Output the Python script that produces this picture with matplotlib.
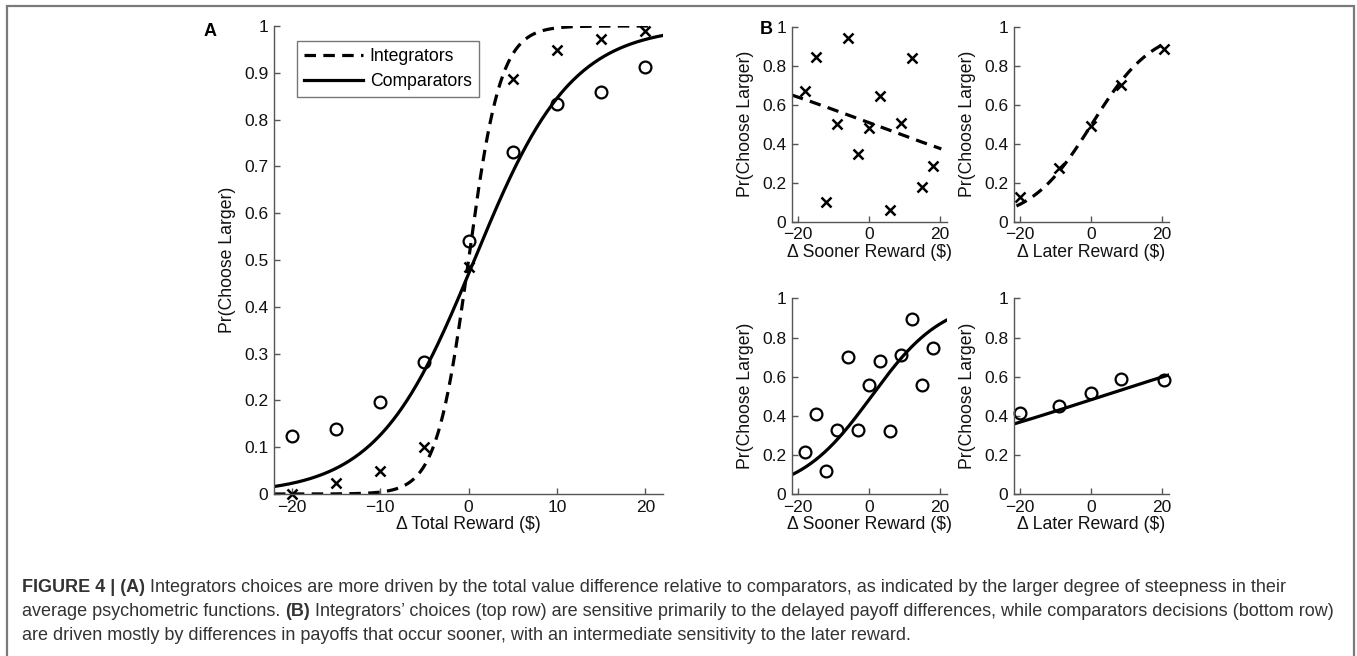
import numpy as np
import matplotlib
matplotlib.use("Agg")
import matplotlib.pyplot as plt
from matplotlib.patches import Rectangle

plt.rcParams['font.family'] = ['Liberation Sans', 'DejaVu Sans']

W, H = 1357, 656

# ---- data ----
total_x = [-20, -15, -10, -5, 0, 5, 10, 15, 20]
integ_total = [0.0, 0.023, 0.050, 0.100, 0.485, 0.886, 0.949, 0.972, 0.990]
comp_total = [0.125, 0.139, 0.196, 0.283, 0.540, 0.731, 0.833, 0.859, 0.912]

sooner_x = [-18, -15, -12, -9, -6, -3, 0, 3, 6, 9, 12, 15, 18]
integ_sooner = [0.67, 0.845, 0.10, 0.50, 0.94, 0.346, 0.48, 0.643, 0.06, 0.508, 0.838, 0.18, 0.287]
comp_sooner = [0.215, 0.41, 0.117, 0.328, 0.699, 0.328, 0.558, 0.68, 0.323, 0.711, 0.893, 0.559, 0.748]

later_x = [-20, -9, 0, 8.5, 20.5]
integ_later = [0.128, 0.274, 0.49, 0.70, 0.884]
comp_later = [0.417, 0.452, 0.519, 0.588, 0.582]

# logistic fits: (intercept, slope, x start, x end)
fit_integ_total = (0.0, 0.55, -22, 21)
fit_comp_total = (-0.12, 0.182, -22, 22)
fit_integ_sooner = (0.03, -0.027, -21.7, 20.3)
fit_comp_sooner = (-0.064, 0.0983, -21.7, 21.9)
fit_integ_later = (-0.02, 0.115, -21, 20)
fit_comp_later = (-0.07, 0.0235, -21.7, 21.9)

caption = [
    [("FIGURE 4 | (A)", True),
     (" Integrators choices are more driven by the total value difference relative to comparators, "
      "as indicated by the larger degree of steepness in their", False)],
    [("average psychometric functions. ", False), ("(B)", True),
     (" Integrators\u2019 choices (top row) are sensitive primarily to the delayed payoff differences, "
      "while comparators decisions (bottom row)", False)],
    [("are driven mostly by differences in payoffs that occur sooner, with an intermediate "
      "sensitivity to the later reward.", False)],
]

SPINE = '#555555'
FS = 12.5      # tick labels
LFS = 12.7     # axis labels
DASH = (0, (3.6, 2.3))


def px_axes(l, t, r, b):
    return fig.add_axes([l / W, 1 - b / H, (r - l) / W, (b - t) / H])


def logistic(fit, n=300):
    b0, b1, x0, x1 = fit
    xs = np.linspace(x0, x1, n)
    return xs, 1 / (1 + np.exp(-(b0 + b1 * xs)))


def style(ax, l, t, r, b, xlabel, yticks, xticks, xlim):
    for s in ['top', 'right']:
        ax.spines[s].set_visible(False)
    for s in ['left', 'bottom']:
        ax.spines[s].set_color(SPINE)
        ax.spines[s].set_linewidth(1.0)
    ax.set_xlim(xlim)
    ax.set_ylim(0, 1)
    ax.set_xticks(xticks)
    ax.set_yticks(yticks)
    ax.set_yticklabels(['0' if v == 0 else ('1' if v == 1 else f'{v:g}') for v in yticks])
    ax.tick_params(direction='in', length=4, width=1, color=SPINE, labelsize=FS,
                   labelcolor='#111111')
    ax.tick_params(axis='x', pad=4)
    ax.tick_params(axis='y', pad=4)
    ax.set_xlabel(xlabel, fontsize=LFS, color='#111111')
    ax.set_ylabel('Pr(Choose Larger)', fontsize=LFS, color='#111111')
    wpx, hpx = r - l, b - t
    ax.xaxis.set_label_coords(0.5, -22 / hpx)
    ax.yaxis.set_label_coords(-38 / wpx, 0.5)
    ax.patch.set_alpha(0)


fig = plt.figure(figsize=(W / 100, H / 100), dpi=100)

# outer frame
fig.patches.append(Rectangle((7 / W, -0.05), (1354 - 7) / W, 1.05 - 6 / H,
                             transform=fig.transFigure, fill=False,
                             edgecolor='#7a7a7a', lw=1.6, clip_on=False))

# ---- panel A ----
A = (274, 26, 663, 494)
axA = px_axes(*A)
xs, ys = logistic(fit_integ_total)
axA.plot(xs, ys, color='k', lw=2.3, linestyle=DASH, label='Integrators')
xs, ys = logistic(fit_comp_total)
axA.plot(xs, ys, color='k', lw=2.3, label='Comparators')
axA.plot(total_x, integ_total, 'x', color='k', ms=6.5, mew=1.8, clip_on=False)
axA.plot(total_x, comp_total, 'o', mfc='none', mec='k', ms=8.5, mew=1.6, clip_on=False)
style(axA, *A, '\u0394 Total Reward (\\$)', np.round(np.arange(0, 1.01, 0.1), 1),
      [-20, -10, 0, 10, 20], (-22, 22))
leg = axA.legend(loc='upper left', bbox_to_anchor=(297 / W, 1 - 41 / H),
                 bbox_transform=fig.transFigure, borderaxespad=0, fontsize=12.7,
                 frameon=True, fancybox=False, handlelength=3.3, handletextpad=0.4,
                 labelspacing=0.42, borderpad=0.42)
leg.get_frame().set_edgecolor(SPINE)
leg.get_frame().set_linewidth(1.0)
fig.text(210 / W, 1 - 31 / H, 'A', fontsize=13, fontweight='bold', ha='center', va='center')

# ---- panel B ----
bticks = [0, 0.2, 0.4, 0.6, 0.8, 1]
blim = (-21.7, 21.9)
TL = (792, 26.7, 947, 221.7)
TR = (1014, 26.7, 1169, 221.7)
BL = (792, 298.3, 947, 494.3)
BR = (1014, 298.3, 1169, 494.3)

ax = px_axes(*TL)
xs, ys = logistic(fit_integ_sooner)
ax.plot(xs, ys, color='k', lw=2.3, linestyle=DASH)
ax.plot(sooner_x, integ_sooner, 'x', color='k', ms=6.5, mew=1.8, clip_on=False)
style(ax, *TL, '\u0394 Sooner Reward (\\$)', bticks, [-20, 0, 20], blim)

ax = px_axes(*TR)
xs, ys = logistic(fit_integ_later)
ax.plot(xs, ys, color='k', lw=2.3, linestyle=DASH)
ax.plot(later_x, integ_later, 'x', color='k', ms=6.5, mew=1.8, clip_on=False)
style(ax, *TR, '\u0394 Later Reward (\\$)', bticks, [-20, 0, 20], blim)

ax = px_axes(*BL)
xs, ys = logistic(fit_comp_sooner)
ax.plot(xs, ys, color='k', lw=2.3)
ax.plot(sooner_x, comp_sooner, 'o', mfc='none', mec='k', ms=8.5, mew=1.6, clip_on=False)
style(ax, *BL, '\u0394 Sooner Reward (\\$)', bticks, [-20, 0, 20], blim)

ax = px_axes(*BR)
xs, ys = logistic(fit_comp_later)
ax.plot(xs, ys, color='k', lw=2.3)
ax.plot(later_x, comp_later, 'o', mfc='none', mec='k', ms=8.5, mew=1.6, clip_on=False)
style(ax, *BR, '\u0394 Later Reward (\\$)', bticks, [-20, 0, 20], blim)

fig.text(766 / W, 1 - 30 / H, 'B', fontsize=13, fontweight='bold', ha='center', va='center')

# ---- caption ----
renderer = fig.canvas.get_renderer()
for y, parts in zip([587, 611, 635], caption):
    x = 22
    for txt, bold in parts:
        t = fig.text(x / W, 1 - y / H, txt, fontsize=13, color='#333333',
                     fontweight='bold' if bold else 'normal', ha='left', va='center')
        x += t.get_window_extent(renderer).width

fig.savefig('out.png', dpi=100)
